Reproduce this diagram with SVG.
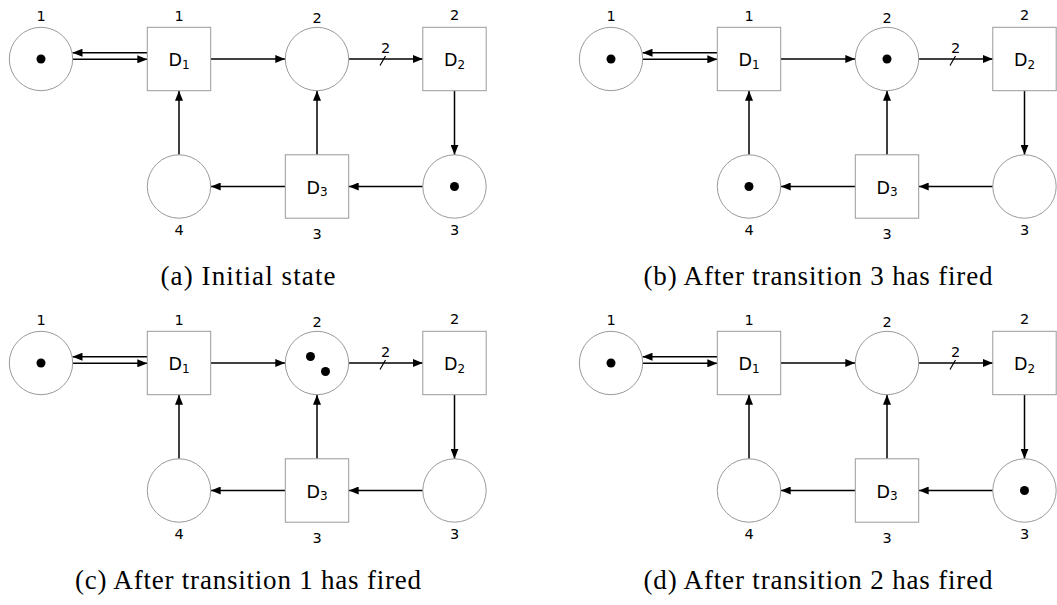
<svg xmlns="http://www.w3.org/2000/svg" width="1057" height="605" viewBox="0 0 1057 605">
<style>
.pl{fill:#fff;stroke:#9a9a9a;stroke-width:1}
.tr{fill:#fff;stroke:#9a9a9a;stroke-width:1}
.lb{font-family:"DejaVu Sans",Verdana,sans-serif;font-size:14.5px;fill:#000;text-anchor:middle}
.dn{font-family:"DejaVu Sans",Verdana,sans-serif;font-size:17.5px;fill:#000;text-anchor:middle}
.sb{font-size:12px}
.tk{fill:#000}
.ar{stroke:#000;stroke-width:1.5;fill:none;marker-end:url(#ah)}
.sl{stroke:#000;stroke-width:1.2;fill:none}
.cap{font-family:"Liberation Serif","Times New Roman",serif;font-size:27px;fill:#000;text-anchor:middle}
</style>
<defs>
<marker id="ah" markerUnits="userSpaceOnUse" markerWidth="10" markerHeight="8" refX="10" refY="4" orient="auto">
<path d="M0,0 L10,4 L0,8 z" fill="#000"/>
</marker>
</defs>

<!-- Panel (a) -->
<g id="panel-a">
<g id="a-connectors">
<line class="ar" x1="147.3" y1="52.7" x2="72.5" y2="52.7"/>
<line class="ar" x1="72.7" y1="59.3" x2="147.3" y2="59.3"/>
<line class="ar" x1="210.7" y1="59" x2="285.3" y2="59"/>
<line class="ar" x1="348.7" y1="59" x2="422.8" y2="59"/>
<line class="sl" x1="380" y1="65.5" x2="385.5" y2="56"/>
<text class="lb" x="385.5" y="52.7">2</text>
<line class="ar" x1="454.5" y1="90.7" x2="454.5" y2="154.8"/>
<line class="ar" x1="422.8" y1="186.5" x2="348.7" y2="186.5"/>
<line class="ar" x1="285.3" y1="186.5" x2="210.7" y2="186.5"/>
<line class="ar" x1="179" y1="154.8" x2="179" y2="90.7"/>
<line class="ar" x1="317" y1="154.8" x2="317" y2="90.7"/>
</g>
<g id="a-p1"><circle class="pl" cx="41" cy="59" r="31.7"/><circle class="tk" cx="41" cy="59" r="4.5"/><text class="lb" x="41" y="20.5">1</text></g>
<g id="a-t1"><rect class="tr" x="147.3" y="27.3" width="63.4" height="63.4"/><text class="dn" x="179" y="66">D<tspan class="sb" dy="2.6">1</tspan></text><text class="lb" x="179" y="20.5">1</text></g>
<g id="a-p2"><circle class="pl" cx="317" cy="59" r="31.7"/><text class="lb" x="317" y="22.5">2</text></g>
<g id="a-t2"><rect class="tr" x="422.8" y="27.3" width="63.4" height="63.4"/><text class="dn" x="454.5" y="66">D<tspan class="sb" dy="2.6">2</tspan></text><text class="lb" x="454.5" y="20">2</text></g>
<g id="a-p4"><circle class="pl" cx="179" cy="186.5" r="31.7"/><text class="lb" x="179" y="234.5">4</text></g>
<g id="a-t3"><rect class="tr" x="285.3" y="154.8" width="63.4" height="63.4"/><text class="dn" x="317" y="193.7">D<tspan class="sb" dy="2.6">3</tspan></text><text class="lb" x="317" y="238.7">3</text></g>
<g id="a-p3"><circle class="pl" cx="454.5" cy="186.5" r="31.7"/><circle class="tk" cx="454.5" cy="186.5" r="4.5"/><text class="lb" x="454.5" y="234.5">3</text></g>
<text class="cap" x="248" y="285" textLength="175" lengthAdjust="spacing">(a) Initial state</text>
</g>

<!-- Panel (b) -->
<g id="panel-b" transform="translate(570,0)">
<g id="b-connectors">
<line class="ar" x1="147.3" y1="52.7" x2="72.5" y2="52.7"/>
<line class="ar" x1="72.7" y1="59.3" x2="147.3" y2="59.3"/>
<line class="ar" x1="210.7" y1="59" x2="285.3" y2="59"/>
<line class="ar" x1="348.7" y1="59" x2="422.8" y2="59"/>
<line class="sl" x1="380" y1="65.5" x2="385.5" y2="56"/>
<text class="lb" x="385.5" y="52.7">2</text>
<line class="ar" x1="454.5" y1="90.7" x2="454.5" y2="154.8"/>
<line class="ar" x1="422.8" y1="186.5" x2="348.7" y2="186.5"/>
<line class="ar" x1="285.3" y1="186.5" x2="210.7" y2="186.5"/>
<line class="ar" x1="179" y1="154.8" x2="179" y2="90.7"/>
<line class="ar" x1="317" y1="154.8" x2="317" y2="90.7"/>
</g>
<g id="b-p1"><circle class="pl" cx="41" cy="59" r="31.7"/><circle class="tk" cx="41" cy="59" r="4.5"/><text class="lb" x="41" y="20.5">1</text></g>
<g id="b-t1"><rect class="tr" x="147.3" y="27.3" width="63.4" height="63.4"/><text class="dn" x="179" y="66">D<tspan class="sb" dy="2.6">1</tspan></text><text class="lb" x="179" y="20.5">1</text></g>
<g id="b-p2"><circle class="pl" cx="317" cy="59" r="31.7"/><circle class="tk" cx="317" cy="59" r="4.5"/><text class="lb" x="317" y="22.5">2</text></g>
<g id="b-t2"><rect class="tr" x="422.8" y="27.3" width="63.4" height="63.4"/><text class="dn" x="454.5" y="66">D<tspan class="sb" dy="2.6">2</tspan></text><text class="lb" x="454.5" y="20">2</text></g>
<g id="b-p4"><circle class="pl" cx="179" cy="186.5" r="31.7"/><circle class="tk" cx="179" cy="186.5" r="4.5"/><text class="lb" x="179" y="234.5">4</text></g>
<g id="b-t3"><rect class="tr" x="285.3" y="154.8" width="63.4" height="63.4"/><text class="dn" x="317" y="193.7">D<tspan class="sb" dy="2.6">3</tspan></text><text class="lb" x="317" y="238.7">3</text></g>
<g id="b-p3"><circle class="pl" cx="454.5" cy="186.5" r="31.7"/><text class="lb" x="454.5" y="234.5">3</text></g>
<text class="cap" x="248" y="285" textLength="349" lengthAdjust="spacing">(b) After transition 3 has fired</text>
</g>

<!-- Panel (c) -->
<g id="panel-c" transform="translate(0,304)">
<g id="c-connectors">
<line class="ar" x1="147.3" y1="52.7" x2="72.5" y2="52.7"/>
<line class="ar" x1="72.7" y1="59.3" x2="147.3" y2="59.3"/>
<line class="ar" x1="210.7" y1="59" x2="285.3" y2="59"/>
<line class="ar" x1="348.7" y1="59" x2="422.8" y2="59"/>
<line class="sl" x1="380" y1="65.5" x2="385.5" y2="56"/>
<text class="lb" x="385.5" y="52.7">2</text>
<line class="ar" x1="454.5" y1="90.7" x2="454.5" y2="154.8"/>
<line class="ar" x1="422.8" y1="186.5" x2="348.7" y2="186.5"/>
<line class="ar" x1="285.3" y1="186.5" x2="210.7" y2="186.5"/>
<line class="ar" x1="179" y1="154.8" x2="179" y2="90.7"/>
<line class="ar" x1="317" y1="154.8" x2="317" y2="90.7"/>
</g>
<g id="c-p1"><circle class="pl" cx="41" cy="59" r="31.7"/><circle class="tk" cx="41" cy="59" r="4.5"/><text class="lb" x="41" y="20.5">1</text></g>
<g id="c-t1"><rect class="tr" x="147.3" y="27.3" width="63.4" height="63.4"/><text class="dn" x="179" y="66">D<tspan class="sb" dy="2.6">1</tspan></text><text class="lb" x="179" y="20.5">1</text></g>
<g id="c-p2"><circle class="pl" cx="317" cy="59" r="31.7"/><circle class="tk" cx="310.5" cy="52.5" r="4.5"/><circle class="tk" cx="325.5" cy="67.5" r="4.5"/><text class="lb" x="317" y="22.5">2</text></g>
<g id="c-t2"><rect class="tr" x="422.8" y="27.3" width="63.4" height="63.4"/><text class="dn" x="454.5" y="66">D<tspan class="sb" dy="2.6">2</tspan></text><text class="lb" x="454.5" y="20">2</text></g>
<g id="c-p4"><circle class="pl" cx="179" cy="186.5" r="31.7"/><text class="lb" x="179" y="234.5">4</text></g>
<g id="c-t3"><rect class="tr" x="285.3" y="154.8" width="63.4" height="63.4"/><text class="dn" x="317" y="193.7">D<tspan class="sb" dy="2.6">3</tspan></text><text class="lb" x="317" y="238.7">3</text></g>
<g id="c-p3"><circle class="pl" cx="454.5" cy="186.5" r="31.7"/><text class="lb" x="454.5" y="234.5">3</text></g>
<text class="cap" x="248" y="285" textLength="346" lengthAdjust="spacing">(c) After transition 1 has fired</text>
</g>

<!-- Panel (d) -->
<g id="panel-d" transform="translate(570,304)">
<g id="d-connectors">
<line class="ar" x1="147.3" y1="52.7" x2="72.5" y2="52.7"/>
<line class="ar" x1="72.7" y1="59.3" x2="147.3" y2="59.3"/>
<line class="ar" x1="210.7" y1="59" x2="285.3" y2="59"/>
<line class="ar" x1="348.7" y1="59" x2="422.8" y2="59"/>
<line class="sl" x1="380" y1="65.5" x2="385.5" y2="56"/>
<text class="lb" x="385.5" y="52.7">2</text>
<line class="ar" x1="454.5" y1="90.7" x2="454.5" y2="154.8"/>
<line class="ar" x1="422.8" y1="186.5" x2="348.7" y2="186.5"/>
<line class="ar" x1="285.3" y1="186.5" x2="210.7" y2="186.5"/>
<line class="ar" x1="179" y1="154.8" x2="179" y2="90.7"/>
<line class="ar" x1="317" y1="154.8" x2="317" y2="90.7"/>
</g>
<g id="d-p1"><circle class="pl" cx="41" cy="59" r="31.7"/><circle class="tk" cx="41" cy="59" r="4.5"/><text class="lb" x="41" y="20.5">1</text></g>
<g id="d-t1"><rect class="tr" x="147.3" y="27.3" width="63.4" height="63.4"/><text class="dn" x="179" y="66">D<tspan class="sb" dy="2.6">1</tspan></text><text class="lb" x="179" y="20.5">1</text></g>
<g id="d-p2"><circle class="pl" cx="317" cy="59" r="31.7"/><text class="lb" x="317" y="22.5">2</text></g>
<g id="d-t2"><rect class="tr" x="422.8" y="27.3" width="63.4" height="63.4"/><text class="dn" x="454.5" y="66">D<tspan class="sb" dy="2.6">2</tspan></text><text class="lb" x="454.5" y="20">2</text></g>
<g id="d-p4"><circle class="pl" cx="179" cy="186.5" r="31.7"/><text class="lb" x="179" y="234.5">4</text></g>
<g id="d-t3"><rect class="tr" x="285.3" y="154.8" width="63.4" height="63.4"/><text class="dn" x="317" y="193.7">D<tspan class="sb" dy="2.6">3</tspan></text><text class="lb" x="317" y="238.7">3</text></g>
<g id="d-p3"><circle class="pl" cx="454.5" cy="186.5" r="31.7"/><circle class="tk" cx="454.5" cy="186.5" r="4.5"/><text class="lb" x="454.5" y="234.5">3</text></g>
<text class="cap" x="248" y="285" textLength="349" lengthAdjust="spacing">(d) After transition 2 has fired</text>
</g>
</svg>
